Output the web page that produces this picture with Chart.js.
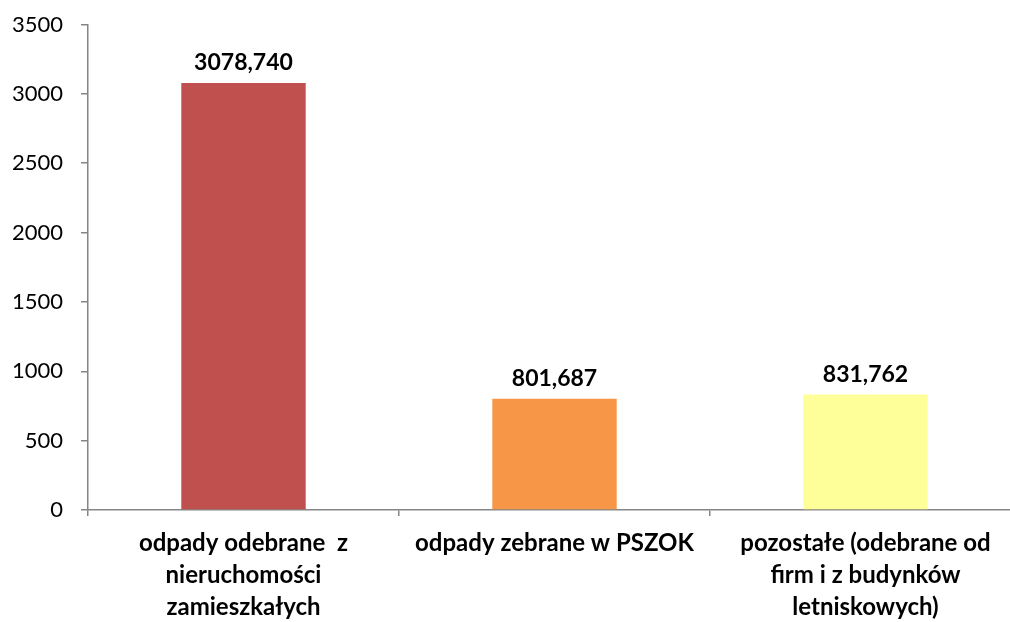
<!DOCTYPE html>
<html>
<head>
<meta charset="utf-8">
<script src="https://cdn.jsdelivr.net/npm/chart.js@4"></script>
<style>
  html, body { margin: 0; padding: 0; background: #fff; overflow: hidden; }
  #wrap { width: 1021px; height: 622px; position: relative; }
</style>
</head>
<body>
<div id="wrap"><canvas id="chart"></canvas></div>
<script>
const categories = [
    ['odpady odebrane  z', 'nieruchomości', 'zamieszkałych'],
    'odpady zebrane w PSZOK',
    ['pozostałe (odebrane od', 'firm i z budynków', 'letniskowych)']
];
const values = [3078.740, 801.687, 831.762];
const barColors = ['#C0504D', '#F79646', '#FFFF99'];
const yTicks = [0, 500, 1000, 1500, 2000, 2500, 3000, 3500];

const axisGray = '#868686';
const fontFamily = 'Lato, "Open Sans", sans-serif';

// draws the value above each bar, position taken from the bar element
const valueLabels = {
    id: 'valueLabels',
    afterDatasetsDraw(chart) {
        const ctx = chart.ctx;
        const meta = chart.getDatasetMeta(0);
        ctx.save();
        ctx.font = 'bold 23px ' + fontFamily;
        ctx.fillStyle = '#000';
        ctx.textAlign = 'center';
        ctx.textBaseline = 'alphabetic';
        meta.data.forEach((bar, i) => {
            const txt = values[i].toFixed(3).replace('.', ',');
            ctx.fillText(txt, bar.x, bar.y - 13);
        });
        ctx.restore();
    }
};

new Chart(document.getElementById('chart').getContext('2d'), {
    type: 'bar',
    data: {
        labels: categories,
        datasets: [{
            data: values,
            backgroundColor: barColors,
            borderWidth: 0,
            barPercentage: 0.4,
            categoryPercentage: 1.0
        }]
    },
    options: {
        responsive: true,
        maintainAspectRatio: false,
        animation: false,
        layout: { padding: { top: 24.5, left: 0, right: 0, bottom: 0 } },
        plugins: {
            legend: { display: false },
            tooltip: { enabled: false }
        },
        scales: {
            x: {
                offset: true,
                grid: {
                    offset: true,
                    drawOnChartArea: false,
                    color: axisGray,
                    tickLength: 6,
                    lineWidth: 1.5
                },
                border: { color: axisGray, width: 1.5 },
                ticks: {
                    color: '#000',
                    maxRotation: 0,
                    autoSkip: false,
                    padding: 11,
                    font: { family: fontFamily, size: 24, weight: 'bold', lineHeight: 1.34 }
                },
                afterFit(scale) {
                    scale.height = 112;
                    scale.paddingLeft = 0;
                    scale.paddingRight = 0;
                }
            },
            y: {
                min: 0,
                max: 3500,
                grid: {
                    drawOnChartArea: false,
                    color: axisGray,
                    tickLength: 7,
                    lineWidth: 1.5
                },
                border: { color: axisGray, width: 1.5 },
                afterBuildTicks(scale) { scale.ticks = yTicks.map(v => ({ value: v })); },
                ticks: {
                    color: '#000',
                    padding: 18,
                    font: { family: fontFamily, size: 22 },
                    callback: (v) => String(v)
                },
                afterFit(scale) {
                    scale.width = 88;
                    scale.paddingTop = 0;
                    scale.paddingBottom = 0;
                }
            }
        }
    },
    plugins: [valueLabels]
});
</script>
</body>
</html>
